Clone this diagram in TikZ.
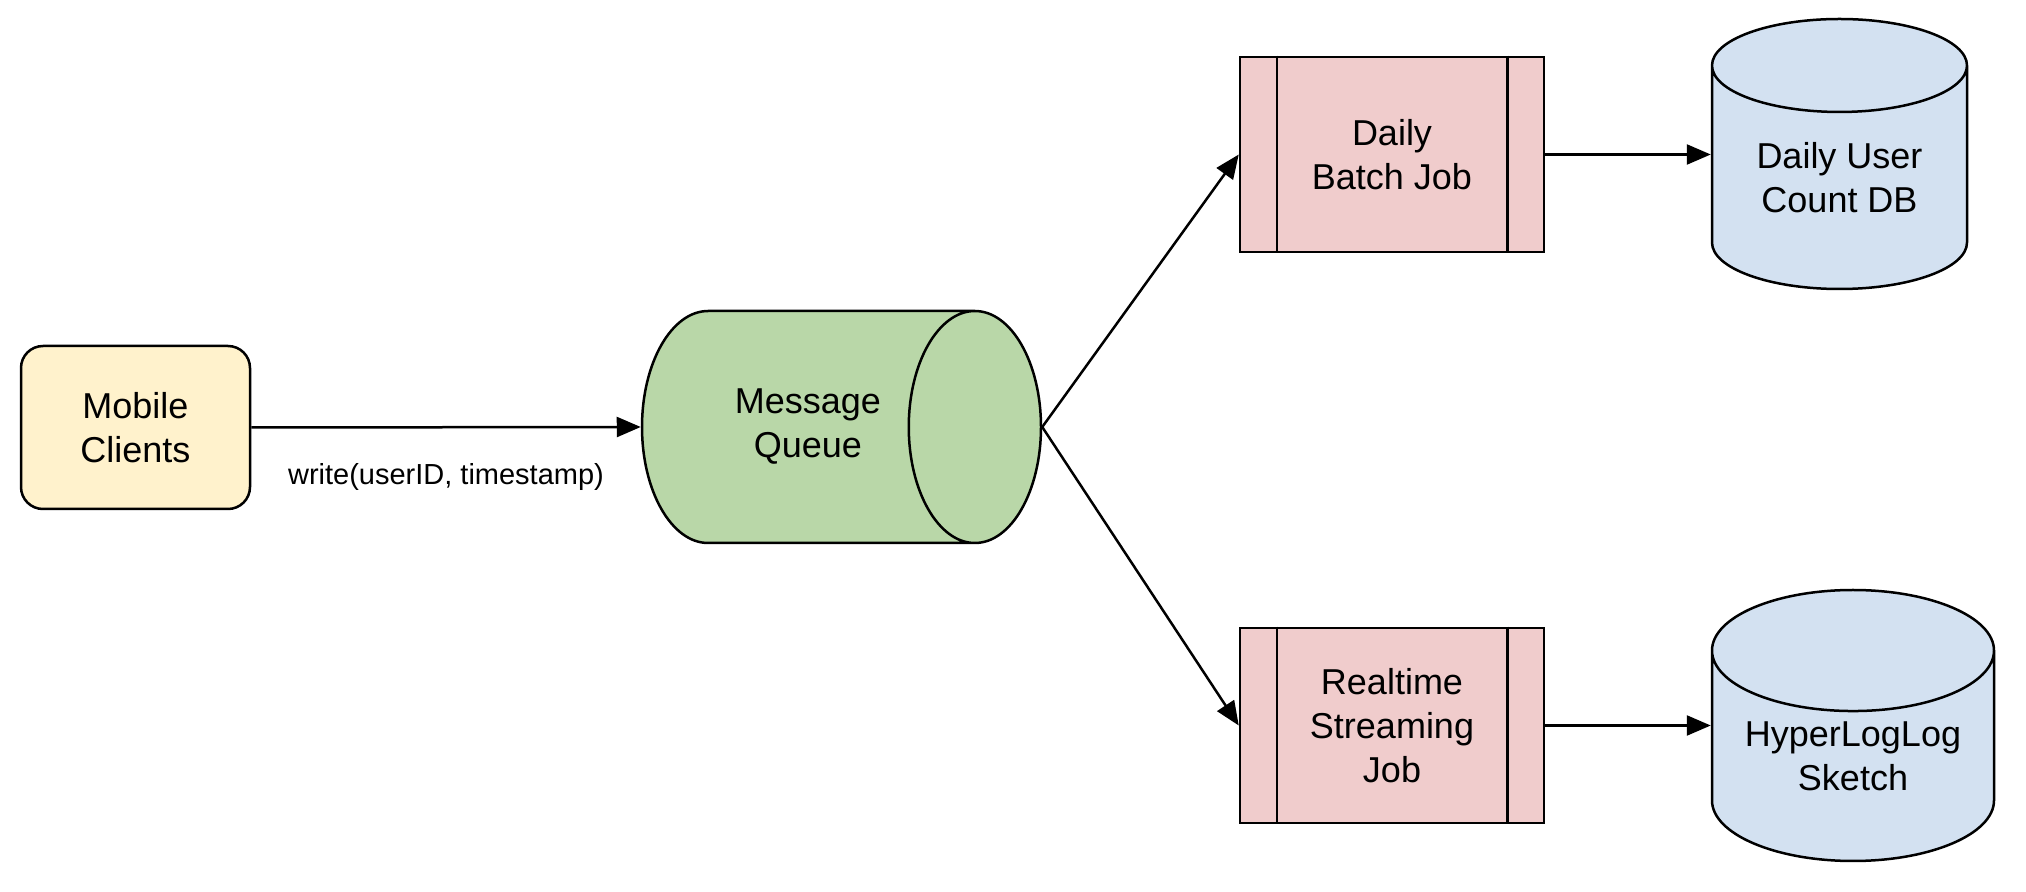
\documentclass[tikz,border=0pt]{standalone}
\usepackage{fontspec}
\setmainfont{Liberation Sans}
\usetikzlibrary{positioning,calc,arrows.meta,shapes.geometric}
\definecolor{clientfill}{HTML}{FFF2CC}
\definecolor{queuefill}{HTML}{B9D7A8}
\definecolor{jobfill}{HTML}{F0CCCC}
\definecolor{storefill}{HTML}{D3E1F1}
\begin{document}
\begin{tikzpicture}[
    x=0.5pt, y=-0.5pt,
    every node/.style={font=\fontsize{18}{22}\selectfont, align=center, line width=1.25pt},
    client/.style={draw, fill=clientfill, rounded corners=11pt,
                   minimum width=114.5pt, minimum height=81.5pt},
    queue/.style={draw, fill=queuefill, cylinder, aspect=1.75,
                  minimum width=116pt, minimum height=199.5pt, inner sep=0pt},
    job/.style={draw, fill=jobfill, minimum width=152pt, minimum height=97.5pt},
    store/.style={draw, fill=storefill, cylinder, shape border rotate=90, aspect=0.56,
                  inner sep=0pt},
    flow/.style={-{Triangle[length=12pt, width=10pt]}, line width=1.25pt},
    edge label/.style={font=\fontsize{14.5}{16}\selectfont}
]
\useasboundingbox (0,0) rectangle (2026,892);

% Source
\node[client] (MC) at (135.5,427.5) {Mobile\\Clients};

% Queue
\node[queue, anchor=shape center] (MQ) at (841.5,427) {Message\\Queue};

% Jobs
\node[job] (DBJ) at (1392,154.5) {Daily\\Batch Job};
\node[job] (RSJ) at (1392,725.5) {Realtime\\Streaming\\Job};
\foreach \j in {DBJ,RSJ} {
  \draw[line width=1.25pt] ($(\j.north west)+(38,0)$) -- ($(\j.south west)+(38,0)$);
  \draw[line width=1.25pt] ($(\j.north east)+(-38,0)$) -- ($(\j.south east)+(-38,0)$);
}

% Stores
\node[store, minimum width=127.5pt, minimum height=135pt, anchor=shape center] (DUC) at (1839.5,154) {Daily User\\Count DB};
\node[store, minimum width=141pt, minimum height=135.5pt, anchor=shape center] (HLL) at (1853,725.5) {HyperLogLog\\Sketch};

% Connectors
\draw[flow] (MC.east) -- node[edge label, below=14pt] {write(userID, timestamp)} (MQ.west);
\draw[flow] (MQ.east) -- (DBJ.west);
\draw[flow] (MQ.east) -- (RSJ.west);
\draw[flow] (DBJ.east) -- (DBJ.east -| DUC.west);
\draw[flow] (RSJ.east) -- (RSJ.east -| HLL.west);

\end{tikzpicture}
\end{document}
